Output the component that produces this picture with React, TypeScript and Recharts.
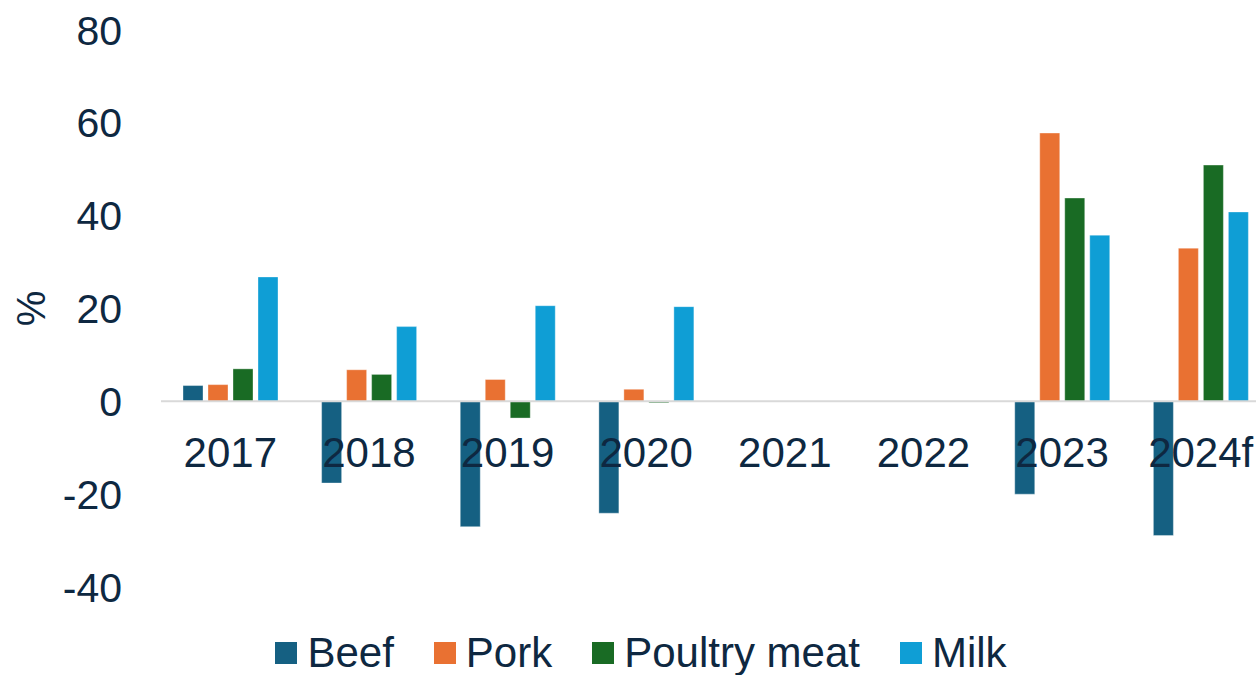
import { BarChart, Bar, XAxis, YAxis, ReferenceLine, Legend } from 'recharts';

const years = ['2017', '2018', '2019', '2020', '2021', '2022', '2023', '2024f'];
const beef = [3.4, -17.6, -27.0, -24.1, null, null, -20.0, -28.9];
const pork = [3.6, 6.8, 4.7, 2.6, null, null, 57.8, 33.0];
const poultry = [7.0, 5.8, -3.6, -0.3, null, null, 43.8, 50.9];
const milk = [26.8, 16.1, 20.6, 20.4, null, null, 35.8, 40.8];
const yTicks = [-40, -20, 0, 20, 40, 60, 80];

const SERIES = [
  { key: 'beef', name: 'Beef', color: '#156082' },
  { key: 'pork', name: 'Pork', color: '#E97132' },
  { key: 'poultry', name: 'Poultry meat', color: '#196B24' },
  { key: 'milk', name: 'Milk', color: '#0F9ED5' },
];

const TEXT = '#0E2841';
const FONT = '"Liberation Sans", Arial, sans-serif';

const data = years.map((year, i) => ({
  year,
  beef: beef[i],
  pork: pork[i],
  poultry: poultry[i],
  milk: milk[i],
}));

function YearTick({ x, y, payload }: any) {
  // labels sit just under the zero line, not at the plot bottom
  return (
    <text x={x} y={y - 128} textAnchor="middle" fill={TEXT} fontSize={42} fontFamily={FONT}>
      {payload.value}
    </text>
  );
}

function PercentLabel({ viewBox }: any) {
  const cx = viewBox.x + 31;
  const cy = viewBox.y + viewBox.height / 2;
  return (
    <text
      x={cx}
      y={cy}
      transform={`rotate(-90, ${cx}, ${cy})`}
      textAnchor="middle"
      dominantBaseline="central"
      fill={TEXT}
      fontSize={40}
      fontFamily={FONT}
    >
      %
    </text>
  );
}

function LegendContent({ payload }: any) {
  // keep series order (recharts sorts legend items by name)
  const items = SERIES.map((s) => (payload ?? []).find((p: any) => p.dataKey === s.key)).filter(Boolean);
  return (
    <div
      style={{
        display: 'flex',
        justifyContent: 'center',
        alignItems: 'center',
        height: 50,
        paddingTop: 6,
        paddingLeft: 12,
        boxSizing: 'border-box',
      }}
    >
      {items.map((entry: any, i: number) => (
        <div key={i} style={{ display: 'flex', alignItems: 'center', marginRight: i < items.length - 1 ? 40 : 0 }}>
          <span style={{ width: 22, height: 22, background: entry.color, marginRight: 10 }} />
          <span style={{ color: TEXT, fontSize: 42, fontFamily: FONT, lineHeight: '40px', whiteSpace: 'nowrap' }}>
            {entry.value}
          </span>
        </div>
      ))}
    </div>
  );
}

export default function App() {
  return (
    <div style={{ position: 'absolute', left: 0, top: 0, width: 1256, height: 675, overflow: 'hidden', background: '#fff' }}>
      <BarChart
        width={1270}
        height={675}
        data={data}
        margin={{ left: 0, right: 0, top: 30, bottom: 0 }}
        barSize={20}
        barGap={5}
      >
        <YAxis
          width={161}
          domain={[-40, 80]}
          ticks={yTicks}
          axisLine={false}
          tickLine={false}
          tickMargin={33}
          tick={{ fill: TEXT, fontSize: 41, fontFamily: FONT }}
          label={{ value: '%', content: <PercentLabel /> }}
        />
        <XAxis
          dataKey="year"
          height={38}
          axisLine={false}
          tickLine={false}
          interval={0}
          tick={<YearTick />}
        />
        <Legend verticalAlign="bottom" height={50} content={<LegendContent />} />
        {SERIES.map((s) => (
          <Bar
            key={s.key}
            dataKey={s.key}
            name={s.name}
            fill={s.color}
            stroke="#ffffff"
            strokeOpacity={0.35}
            strokeWidth={1}
            isAnimationActive={false}
          />
        ))}
        <ReferenceLine y={0} stroke="#D9D9D9" strokeWidth={2} />
      </BarChart>
    </div>
  );
}
